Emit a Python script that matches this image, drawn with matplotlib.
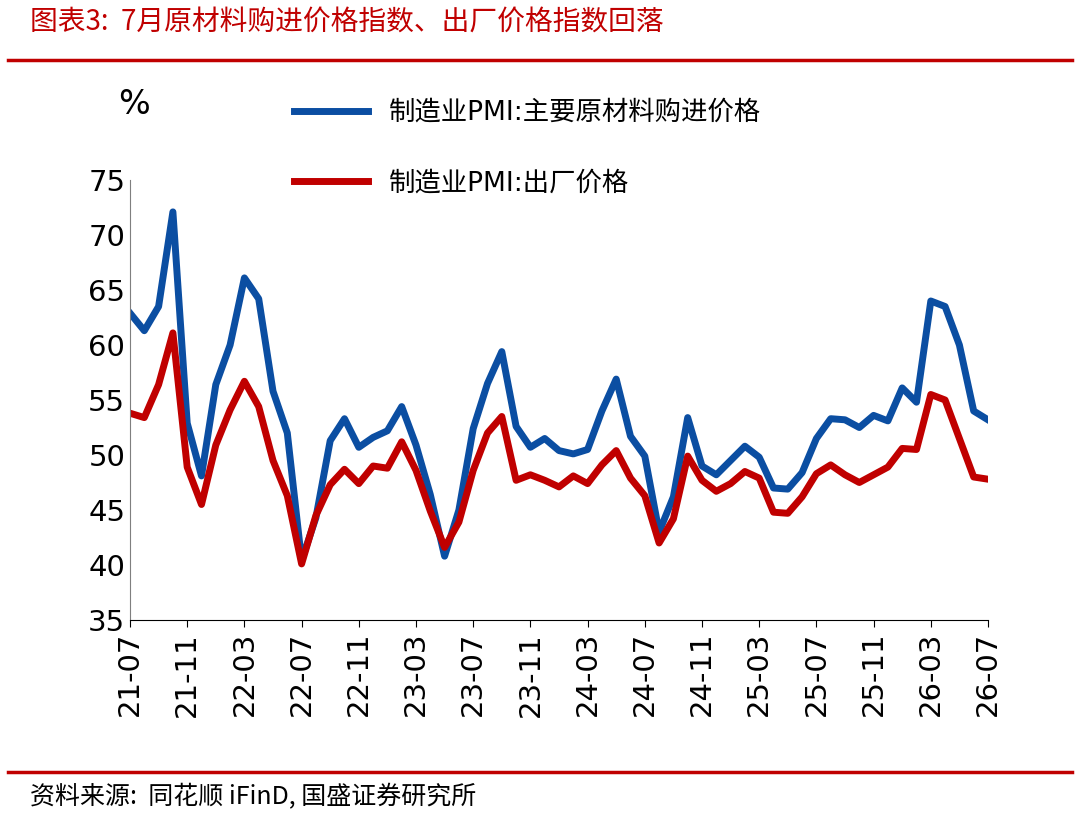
import numpy as np
import matplotlib
matplotlib.use('Agg')
import matplotlib.pyplot as plt

plt.rcParams['font.family'] = ['DejaVu Sans', 'Noto Sans CJK SC']

months = ['%02d-%02d' % (y, m) for y in range(21, 27) for m in range(1, 13)]
months = months[6:67]  # 21-07 .. 26-07

input_price = [62.9, 61.3, 63.5, 72.1, 52.9, 48.1, 56.4, 60.0, 66.1, 64.2, 55.8, 52.0,
               40.4, 44.3, 51.3, 53.3, 50.7, 51.6, 52.2, 54.4, 50.9, 46.4, 40.8, 45.0,
               52.4, 56.5, 59.4, 52.6, 50.7, 51.5, 50.4, 50.1, 50.5, 54.0, 56.9, 51.7,
               49.9, 43.0, 46.2, 53.4, 49.0, 48.2, 49.5, 50.8, 49.8, 47.0, 46.9, 48.4,
               51.5, 53.3, 53.2, 52.5, 53.6, 53.1, 56.1, 54.8, 64.0, 63.5, 60.0, 54.0, 53.2]
output_price = [53.8, 53.4, 56.4, 61.1, 48.9, 45.5, 50.9, 54.1, 56.7, 54.4, 49.5, 46.3,
                40.1, 44.5, 47.3, 48.7, 47.4, 49.0, 48.8, 51.2, 48.6, 44.9, 41.6, 43.9,
                48.6, 52.0, 53.5, 47.7, 48.2, 47.7, 47.1, 48.1, 47.4, 49.1, 50.4, 47.9,
                46.3, 42.0, 44.2, 49.9, 47.7, 46.7, 47.4, 48.5, 47.9, 44.8, 44.7, 46.2,
                48.3, 49.1, 48.2, 47.5, 48.2, 48.9, 50.6, 50.5, 55.5, 55.0, 51.5, 48.0, 47.8]

blue = '#0B4EA2'
red = '#C00000'

fig = plt.figure(figsize=(10.8, 8.19), dpi=100)
ax = fig.add_axes([130/1080, 1-620/819, 858/1080, 440/819])
x = np.arange(len(months))
l1, = ax.plot(x, input_price, color=blue, lw=5, solid_joinstyle='round')
l2, = ax.plot(x, output_price, color=red, lw=5, solid_joinstyle='round')
ax.set_xlim(0, len(months)-1)
ax.set_ylim(35, 75)
ax.set_yticks(range(35, 76, 5))
ax.set_xticks(x[::4])
ax.set_xticklabels(months[::4], rotation=90, fontsize=21)
ax.tick_params(axis='y', labelsize=21, direction='in', length=0)
ax.tick_params(axis='x', direction='out', length=5)
for s in ['top', 'right']:
    ax.spines[s].set_visible(False)
ax.spines['left'].set_color('#7f7f7f')

fig.text(118/1080, 1-105/819, '%', fontsize=24, ha='left', va='center')
fig.legend([l1, l2], ['制造业PMI:主要原材料购进价格', '制造业PMI:出厂价格'],
           loc='upper left', bbox_to_anchor=(270/1080, 1-76/819), frameon=False,
           handlelength=2.8, labelspacing=1.7,
           prop={'family': ['DejaVu Sans', 'Noto Sans CJK SC'], 'size': 19})

fig.text(30/1080, 1-22/819, '图表3:  7月原材料购进价格指数、出厂价格指数回落', color=red,
         fontsize=20, style='italic', va='center', family=['Noto Sans CJK SC'])
fig.add_artist(plt.Line2D([8/1080, 1072/1080], [1-60/819]*2, color=red, lw=2.5))
fig.add_artist(plt.Line2D([8/1080, 1072/1080], [1-772/819]*2, color=red, lw=2.5))
fig.text(30/1080, 1-797/819, '资料来源:  同花顺 iFinD, 国盛证券研究所', fontsize=18,
         style='italic', va='center', family=['Noto Sans CJK SC', 'DejaVu Sans'])

fig.savefig('out.png', dpi=100)
